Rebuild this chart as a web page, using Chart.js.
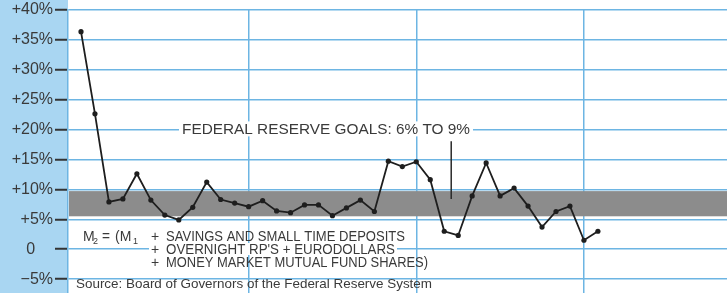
<!DOCTYPE html>
<html>
<head>
<meta charset="utf-8">
<script src="https://cdn.jsdelivr.net/npm/chart.js@4/dist/chart.umd.min.js"></script>
<style>
  html, body { margin: 0; padding: 0; background: #fff; }
  #wrap { width: 727px; height: 293px; position: relative; }
</style>
</head>
<body>
<div id="wrap"><canvas id="m2"></canvas></div>
<script>
// monthly M2 growth, annual rate in percent
const growth = [
  36.3, 22.6, 7.9, 8.4, 12.6, 8.2, 5.7, 4.9, 7.0, 11.2, 8.3, 7.7,
  7.1, 8.1, 6.4, 6.1, 7.4, 7.4, 5.6, 6.9, 8.2, 6.3, 14.7, 13.8,
  14.6, 11.6, 3.0, 2.3, 8.9, 14.4, 8.9, 10.2, 7.2, 3.7, 6.3, 7.2,
  1.5, 3.0
]
// vertical lines mark each new year (month index)
const yearStarts = [12, 24, 36]
const yTicks = [-5, 0, 5, 10, 15, 20, 25, 30, 35, 40]
const yTickLabels = ["\u22125%", "0    ", "+5%", "+10%", "+15%", "+20%", "+25%", "+30%", "+35%", "+40%"]
// Fed target band
const goalLow = 5.5
const goalHigh = 9.7

const blue = "#6db5e3"
const panelBlue = "#a9d6f2"
const ink = "#3a3a3a"
const font = "'Liberation Sans', Arial, sans-serif"

const points = growth.map((v, i) => ({x: i, y: v}))

const decor = {
  id: "decor",
  beforeDraw(chart) {
    const ctx = chart.ctx
    ctx.save()
    ctx.fillStyle = panelBlue
    ctx.fillRect(0, 0, chart.chartArea.left, chart.height)
    ctx.restore()
  },
  beforeDatasetsDraw(chart) {
    const {ctx, chartArea, scales: {y}} = chart
    ctx.save()
    ctx.fillStyle = "#8c8c8c"
    const top = y.getPixelForValue(goalHigh)
    const bot = y.getPixelForValue(goalLow)
    ctx.fillRect(chartArea.left + 1, top, chartArea.right - chartArea.left, bot - top)
    ctx.restore()
  },
  afterDatasetsDraw(chart) {
    const {ctx, scales: {x, y}} = chart
    ctx.save()
    ctx.fillStyle = ink
    ctx.textBaseline = "alphabetic"

    // goals label, breaking the +20% line
    const gy = y.getPixelForValue(20)
    ctx.fillStyle = "#fff"
    ctx.fillRect(179, gy - 8, 294, 15)
    ctx.fillStyle = ink
    ctx.font = "15.5px " + font
    ctx.fillText("FEDERAL RESERVE GOALS: 6% TO 9%", 182, gy + 5, 288)

    // leader into the band
    ctx.strokeStyle = "#2a2a2a"
    ctx.lineWidth = 1.5
    const lx = x.getPixelForValue(26.5)
    ctx.beginPath()
    ctx.moveTo(lx, y.getPixelForValue(18))
    ctx.lineTo(lx, y.getPixelForValue(8.4))
    ctx.stroke()

    // M2 definition
    ctx.font = "14px " + font
    ctx.fillText("M", 83, 241)
    ctx.font = "9px " + font
    ctx.fillText("2", 93, 244)
    ctx.font = "14px " + font
    ctx.fillText("=", 102, 241, 8)
    ctx.fillText("(M", 115, 241, 17)
    ctx.font = "9px " + font
    ctx.fillText("1", 133, 244)
    ctx.font = "14px " + font
    ctx.fillText("+", 151, 241)
    ctx.fillText("SAVINGS AND SMALL TIME DEPOSITS", 166, 241, 239)

    ctx.fillStyle = "#fff"
    ctx.fillRect(149, 243, 248, 12)
    ctx.fillStyle = ink
    ctx.fillText("+", 151, 254)
    ctx.fillText("OVERNIGHT RP'S + EURODOLLARS", 166, 254, 229)
    ctx.fillText("+", 151, 267)
    ctx.fillText("MONEY MARKET MUTUAL FUND SHARES)", 166, 267, 262)

    ctx.font = "13.5px " + font
    ctx.fillText("Source: Board of Governors of the Federal Reserve System", 76, 288, 356)
    ctx.restore()
  }
}

new Chart(document.getElementById("m2"), {
  type: "line",
  data: {
    datasets: [{
      data: points,
      borderColor: "#1e1e1e",
      borderWidth: 1.8,
      pointRadius: 2.6,
      pointBackgroundColor: "#1e1e1e",
      pointBorderWidth: 0,
      tension: 0
    }]
  },
  options: {
    responsive: true,
    maintainAspectRatio: false,
    animation: false,
    layout: {autoPadding: false, padding: {top: 9.5, right: 0, bottom: 0, left: 0}},
    plugins: {legend: {display: false}, tooltip: {enabled: false}},
    scales: {
      x: {
        type: "linear",
        min: -0.93,
        max: 46.24,
        afterBuildTicks: s => { s.ticks = yearStarts.map(v => ({value: v})) },
        afterFit: s => { s.height = 0; s.paddingLeft = 0; s.paddingRight = 0 },
        ticks: {display: false, padding: 0},
        grid: {color: blue, lineWidth: 1.5, drawTicks: false},
        border: {display: false}
      },
      y: {
        min: -7.3,
        max: 40,
        afterBuildTicks: s => { s.ticks = yTicks.map(v => ({value: v})) },
        afterFit: s => { s.width = 68; s.paddingTop = 0; s.paddingBottom = 0 },
        ticks: {
          color: ink,
          padding: 2,
          font: {family: font, size: 16},
          callback: (v, i) => yTickLabels[i]
        },
        grid: {color: blue, lineWidth: 1.5, tickColor: "#333", tickLength: 13, tickWidth: 2},
        border: {display: true, color: blue, width: 1.5}
      }
    }
  },
  plugins: [decor]
})
</script>
</body>
</html>
